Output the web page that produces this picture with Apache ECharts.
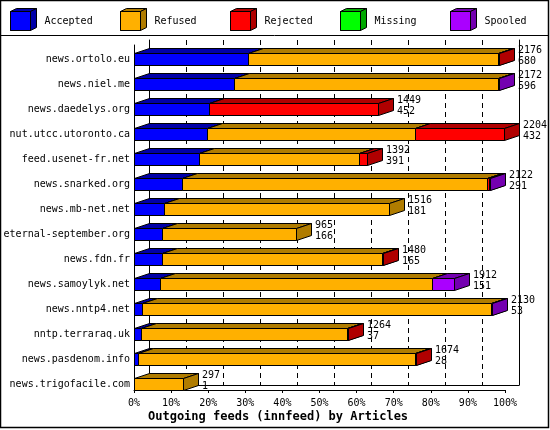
<!DOCTYPE html>
<html><head><meta charset="utf-8">
<script src="https://cdn.jsdelivr.net/npm/echarts@6/dist/echarts.min.js"></script>
<style>html,body{margin:0;padding:0;background:#fff}#c{width:550px;height:430px}</style>
</head><body><div id="c"></div>
<script>
// ---- data ----
const categories = ['news.ortolo.eu','news.niel.me','news.daedelys.org','nut.utcc.utoronto.ca','feed.usenet-fr.net','news.snarked.org','news.mb-net.net','eternal-september.org','news.fdn.fr','news.samoylyk.net','news.nntp4.net','nntp.terraraq.uk','news.pasdenom.info','news.trigofacile.com'];
const offeredLabels  = [2176,2172,1449,2204,1392,2122,1516,965,1480,1912,2130,1264,1674,297];
const acceptedLabels = [680,596,452,432,391,291,181,166,165,151,53,37,28,1];
// percentages of bar length
const acceptedPct = [30.8,27.0,20.3,19.6,17.6,13.0,8.2,7.5,7.5,6.9,2.2,1.8,1.2,0];
const refusedPct  = [67.4,71.0,0,56.2,43.1,82.1,60.5,36.3,59.3,73.3,94.0,55.5,74.5,13.3];
const rejectedPct = [0.3,0,45.4,24.0,2.2,0.5,0,0,0.3,0,0,0.3,0.3,0];
const missingPct  = [0,0,0,0,0,0,0,0,0,0,0,0,0,0];
const spooledPct  = [0,0.3,0,0,0,0.4,0,0,0,6.1,0.3,0,0,0];

const seriesDefs = [
  {name:'Accepted', vals:acceptedPct, front:'#0000ff', dark:'#0000a8'},
  {name:'Refused',  vals:refusedPct,  front:'#ffb000', dark:'#b07c00'},
  {name:'Rejected', vals:rejectedPct, front:'#ff0000', dark:'#b00000'},
  {name:'Missing',  vals:missingPct,  front:'#00ff00', dark:'#00a800'},
  {name:'Spooled',  vals:spooledPct,  front:'#aa00ff', dark:'#7400b0'}
];

const FONT = '10px "DejaVu Sans Mono", monospace';
const DX = 15, DY = 5, H = 12;

// build stacked ranges
const cum = categories.map(()=>0);
const series = [];
seriesDefs.forEach(def=>{
  const data = def.vals.map((v,i)=>{ const s=cum[i]; cum[i]+=v; return [s, cum[i], i]; });
  series.push({
    type:'custom', name:def.name, xAxisIndex:0, yAxisIndex:0,
    itemStyle:{color:def.front}, silent:true, z:10,
    encode:{x:[0,1], y:2},
    data,
    renderItem:(params, api)=>{
      const s=api.value(0), e=api.value(1), c=api.value(2);
      if (e - s <= 0) return;
      const p0=api.coord([s,c]), p1=api.coord([e,c]);
      const x0=Math.round(p0[0])+0.5, x1=Math.round(p1[0])+0.5;
      const yT=Math.round(p0[1]+0.5)+0.5, yB=yT+H;
      const st = {stroke:'#000', lineWidth:1};
      return {type:'group', children:[
        {type:'polygon', shape:{points:[[x0,yT],[x0+DX,yT-DY],[x1+DX,yT-DY],[x1,yT]]}, style:Object.assign({fill:def.dark},st)},
        {type:'polygon', shape:{points:[[x1,yT],[x1+DX,yT-DY],[x1+DX,yB-DY],[x1,yB]]}, style:Object.assign({fill:def.dark},st)},
        {type:'rect', shape:{x:x0,y:yT,width:x1-x0,height:H}, style:Object.assign({fill:def.front},st)}
      ]};
    }
  });
});
// value labels at the end of each bar
series.push({
  type:'custom', name:'labels', xAxisIndex:0, yAxisIndex:0, silent:true, z:11,
  data: cum.map((v,i)=>[v,i]),
  encode:{x:0,y:1},
  renderItem:(params, api)=>{
    const p=api.coord([api.value(0), api.value(1)]);
    const x=Math.round(p[0])+DX+4, yc=p[1];
    const i=params.dataIndex;
    return {type:'group', children:[
      {type:'text', style:{text:String(offeredLabels[i]), x:x, y:yc-2, font:FONT, fill:'#000', textVerticalAlign:'middle'}},
      {type:'text', style:{text:String(acceptedLabels[i]), x:x, y:yc+9, font:FONT, fill:'#000', textVerticalAlign:'middle'}}
    ]};
  }
});

const legends = seriesDefs.map((d,k)=>({
  data:[d.name], left:10+110*k, top:11, padding:0, icon:'rect', itemWidth:20, itemHeight:19,
  itemStyle:{borderColor:'#000', borderWidth:1}, selectedMode:false,
  textStyle:{fontFamily:'DejaVu Sans Mono', fontSize:10, color:'#000', padding:[0,0,0,9]}
}));
const legendFaces = [];
seriesDefs.forEach((d,k)=>{
  const L = 10+110*k+0.5, T=11.5, W=20, HH=19, dx=6, dy=3;
  legendFaces.push({type:'rect', z:100, shape:{x:L,y:T,width:W,height:HH}, style:{fill:d.front, stroke:'#000', lineWidth:1}});
  legendFaces.push({type:'polygon', z:100, shape:{points:[[L,T],[L+dx,T-dy],[L+W+dx,T-dy],[L+W,T]]}, style:{fill:d.dark, stroke:'#000', lineWidth:1}});
  legendFaces.push({type:'polygon', z:100, shape:{points:[[L+W,T],[L+W+dx,T-dy],[L+W+dx,T+HH-dy],[L+W,T+HH]]}, style:{fill:d.dark, stroke:'#000', lineWidth:1}});
});

const option = {
  animation:false,
  backgroundColor:'#fff',
  title:{text:'Outgoing feeds (innfeed) by Articles', left:148, top:411, padding:0,
    textStyle:{fontFamily:'DejaVu Sans Mono', fontSize:12, fontWeight:'bold', color:'#000'}},
  legend: legends,
  grid:[
    {left:134, top:40, width:371, height:350},   // bars
    {left:134, top:45, width:371, height:345},   // front floor / wall
    {left:149, top:40, width:370, height:345},   // back plane
    {left:134, top:46.5, width:371, height:350}  // category labels
  ],
  xAxis:[
    {gridIndex:0, type:'value', min:0, max:100, show:false},
    {gridIndex:1, type:'value', min:0, max:100, interval:10,
      axisLine:{show:true, lineStyle:{color:'#000', width:1}},
      axisTick:{show:true, length:3, lineStyle:{color:'#000'}},
      splitLine:{show:false},
      axisLabel:{formatter:'{value}%', fontFamily:'DejaVu Sans Mono', fontSize:10, color:'#000', margin:8}},
    {gridIndex:2, type:'value', min:0, max:100, interval:10,
      axisLine:{show:true, lineStyle:{color:'#000', width:1}},
      axisTick:{show:false}, axisLabel:{show:false},
      splitLine:{show:true, lineStyle:{color:'#000', type:[5,4], width:1}}},
    {gridIndex:3, type:'value', min:0, max:100, show:false}
  ],
  yAxis:[
    {gridIndex:0, type:'category', data:categories, inverse:true, show:false},
    {gridIndex:1, type:'category', data:categories, inverse:true,
      axisLine:{show:true, lineStyle:{color:'#000'}}, axisTick:{show:false}, axisLabel:{show:false}, splitLine:{show:false}},
    {gridIndex:2, type:'category', data:categories, inverse:true, position:'left',
      axisLine:{show:true, lineStyle:{color:'#000'}}, axisTick:{show:false}, axisLabel:{show:false}, splitLine:{show:false}},
    {gridIndex:2, type:'category', data:categories, inverse:true, position:'right',
      axisLine:{show:true, lineStyle:{color:'#000'}}, axisTick:{show:false}, axisLabel:{show:false}, splitLine:{show:false}},
    {gridIndex:3, type:'category', data:categories, inverse:true,
      axisLine:{show:false}, axisTick:{show:false}, splitLine:{show:false},
      axisLabel:{fontFamily:'DejaVu Sans Mono', fontSize:10, color:'#000', margin:4}}
  ],
  graphic:[
    {type:'rect', z:100, shape:{x:0.5,y:0.5,width:548,height:427}, style:{fill:null, stroke:'#000', lineWidth:1.5}},
    {type:'line', z:100, shape:{x1:0,y1:35.5,x2:549,y2:35.5}, style:{stroke:'#000', lineWidth:1}}
  ].concat(legendFaces),
  series
};
const chart = echarts.init(document.getElementById('c'), null, {renderer:'canvas'});
chart.setOption(option);
</script></body></html>
